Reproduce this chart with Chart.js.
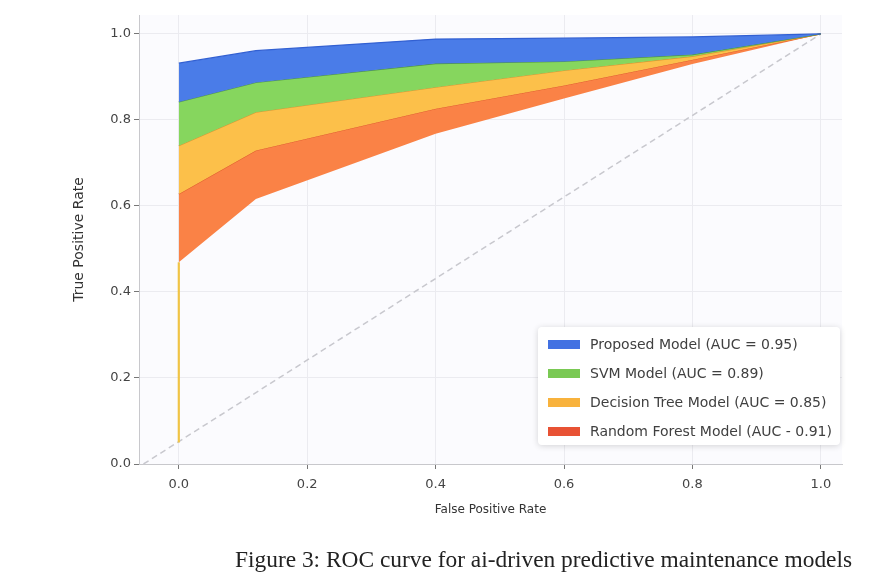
<!DOCTYPE html>
<html><head><meta charset="utf-8">
<script src="https://cdn.jsdelivr.net/npm/chart.js@4"></script>
<style>
html,body{margin:0;padding:0;background:#fff;}
#wrap{position:relative;width:880px;height:577px;overflow:hidden;}
#c{position:absolute;left:0;top:0;}
#legend{position:absolute;left:538px;top:327px;width:302px;height:118px;box-sizing:border-box;background:#fff;border-radius:4px;box-shadow:0 1px 6px rgba(0,0,0,0.16);font-family:"DejaVu Sans",sans-serif;font-size:14px;color:#404040;}
.row{position:absolute;left:10px;height:20px;display:flex;align-items:center;white-space:nowrap;}
.sw{width:32px;height:9px;margin-right:10px;}
#caption{position:absolute;left:235px;top:546px;font-family:"Liberation Serif","Times New Roman",serif;font-size:23.4px;color:#222;white-space:nowrap;}
</style></head>
<body>
<div id="wrap">
<canvas id="c" width="880" height="577"></canvas>
<div id="legend"></div>
<div id="caption">Figure 3: ROC curve for ai-driven predictive maintenance models</div>
</div>
<script>
// ---- data ----
const fpr = [0, 0.12, 0.4, 0.6, 0.8, 1.0];
const proposedTpr = [0.932, 0.961, 0.988, 0.990, 0.993, 1.0];
const svmTpr      = [0.842, 0.887, 0.931, 0.936, 0.952, 1.0];
const treeTpr     = [0.740, 0.818, 0.876, 0.915, 0.948, 1.0];
const forestTpr   = [0.628, 0.729, 0.826, 0.880, 0.940, 1.0];
const lowerFpr    = [0, 0, 0.12, 0.4, 0.6, 0.8, 1.0];
const lowerTpr    = [0.05, 0.469, 0.616, 0.768, 0.850, 0.930, 1.0];
const chanceFpr   = [-0.055, 1.0];
const chanceTpr   = [0, 1.0];
const seriesLabels = [
  'Proposed Model (AUC = 0.95)',
  'SVM Model (AUC = 0.89)',
  'Decision Tree Model (AUC = 0.85)',
  'Random Forest Model (AUC - 0.91)'
];
const xTickValues = [0, 0.2, 0.4, 0.6, 0.8, 1.0];
const yTickValues = [0, 0.2, 0.4, 0.6, 0.8, 1.0];
const xTitle = 'False Positive Rate';
const yTitle = 'True Positive Rate';

// ---- styles ----
const fillColors = ['rgb(74,124,232)','rgb(134,214,94)','rgb(252,192,74)','rgb(250,130,70)'];
const lineColors = ['rgb(50,96,210)','rgb(80,150,70)','rgb(220,150,50)','rgb(225,95,45)'];
const patchColors = ['rgb(66,113,226)','rgb(122,201,84)','rgb(248,178,60)','rgb(232,82,52)'];

const pts = (xs, ys) => xs.map((x, i) => ({x: x, y: ys[i]}));
const series = [proposedTpr, svmTpr, treeTpr, forestTpr];

const datasets = series.map((s, i) => ({
  label: seriesLabels[i],
  data: pts(fpr, s),
  fill: '+1',
  backgroundColor: fillColors[i],
  borderColor: lineColors[i],
  borderWidth: 1.2,
  pointRadius: 0,
  tension: 0
}));
datasets.push({
  label: 'lower',
  data: pts(lowerFpr, lowerTpr),
  fill: false,
  borderWidth: 2.2,
  borderColor: 'rgb(240,196,70)',
  pointRadius: 0,
  segment: {
    borderColor: ctx => ctx.p0DataIndex === 0 ? 'rgb(240,196,70)' : 'rgba(0,0,0,0)'
  }
});
datasets.push({
  label: 'chance',
  data: pts(chanceFpr, chanceTpr),
  fill: false,
  borderColor: 'rgb(200,200,206)',
  borderDash: [6, 4],
  borderWidth: 1.5,
  pointRadius: 0
});

const bgPlugin = {
  id: 'bg',
  beforeDraw(chart) {
    const {ctx, chartArea: a} = chart;
    ctx.save();
    ctx.fillStyle = '#fbfbfe';
    ctx.fillRect(a.left, a.top, a.right - a.left, a.bottom - a.top);
    ctx.restore();
  }
};

new Chart(document.getElementById('c'), {
  type: 'line',
  data: {datasets},
  options: {
    responsive: false,
    animation: false,
    events: [],
    layout: {padding: {left: 0, right: 38, top: 15, bottom: 53}},
    plugins: {legend: {display: false}, tooltip: {enabled: false}},
    scales: {
      x: {
        type: 'linear', min: -0.062, max: 1.033,
        afterBuildTicks: s => { s.ticks = xTickValues.map(v => ({value: v})); },
        afterFit: s => { s.height = 60; },
        ticks: {callback: v => v.toFixed(1), font: {family: 'DejaVu Sans', size: 13}, color: '#444', padding: 8, maxRotation: 0},
        grid: {color: '#ebebf0', lineWidth: 1, tickLength: 5, tickColor: '#777'},
        border: {display: true, color: '#c8c8cc'},
        title: {display: true, text: xTitle, font: {family: 'DejaVu Sans', size: 12}, color: '#333', padding: {top: 0, bottom: 7}}
      },
      y: {
        type: 'linear', min: 0, max: 1.044,
        afterBuildTicks: s => { s.ticks = yTickValues.map(v => ({value: v})); },
        afterFit: s => { s.width = 139; },
        ticks: {callback: v => v.toFixed(1), font: {family: 'DejaVu Sans', size: 13}, color: '#444', padding: 3},
        grid: {color: '#ebebf0', lineWidth: 1, tickLength: 5, tickColor: '#777'},
        border: {display: true, color: '#c8c8cc'},
        title: {display: true, text: yTitle, font: {family: 'DejaVu Sans', size: 14}, color: '#333', padding: {top: 71, bottom: 0}}
      }
    }
  },
  plugins: [bgPlugin]
});

// HTML legend built from the labels
const lg = document.getElementById('legend');
const rowTops = [7, 36, 65, 94];
seriesLabels.forEach((t, i) => {
  const r = document.createElement('div');
  r.className = 'row';
  r.style.top = rowTops[i] + 'px';
  const sw = document.createElement('span');
  sw.className = 'sw';
  sw.style.background = patchColors[i];
  const tx = document.createElement('span');
  tx.textContent = t;
  r.appendChild(sw); r.appendChild(tx);
  lg.appendChild(r);
});
</script>
</body></html>
